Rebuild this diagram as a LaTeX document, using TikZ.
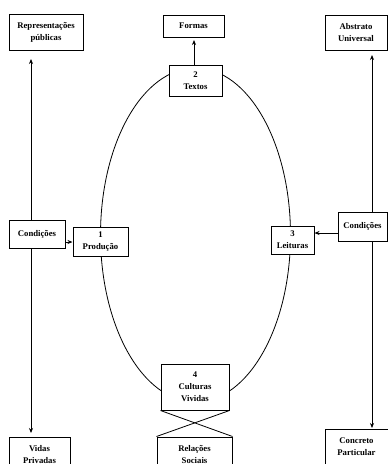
\documentclass[tikz,border=0pt]{standalone}
\usepackage{fontspec}
\setmainfont{Liberation Serif}
\usetikzlibrary{arrows.meta}
\begin{document}
\begin{tikzpicture}[x=1pt,y=-1pt,
  box/.style={draw,line width=1pt,fill=white,inner sep=0pt,align=center,
    font=\fontsize{8.7}{12}\selectfont\bfseries,anchor=center},
  conn/.style={line width=0.8pt},
  arr/.style={conn,-{Stealth[length=5pt,width=4pt]}}]
\useasboundingbox (0,0) rectangle (388,464);
\draw[line width=0.8pt] (195.5,235) ellipse [x radius=95, y radius=167];
\node[box,minimum width=74pt,minimum height=36pt] (rep) at (46,32) {Representações\\públicas};
\node[box,minimum width=61pt,minimum height=22pt] (formas) at (193.5,26) {Formas};
\node[box,minimum width=53pt,minimum height=31pt] (textos) at (195.5,80.5) {2\\Textos};
\node[box,minimum width=62pt,minimum height=35pt] (abs) at (356,32.5) {Abstrato\\Universal};
\node[box,minimum width=56pt,minimum height=28pt] (condl) at (37,234) {Condições};
\node[box,minimum width=55pt,minimum height=29pt] (prod) at (100.5,241.5) {1\\Produção};
\node[box,minimum width=43pt,minimum height=28pt] (leit) at (292.5,240) {3\\Leituras};
\node[box,minimum width=49pt,minimum height=29pt] (condr) at (362.5,226.5) {Condições};
\node[box,minimum width=68pt,minimum height=46pt] (cult) at (195,387) {4\\Culturas\\Vividas};
\node[box,minimum width=75pt,minimum height=35pt] (rel) at (194.5,454.5) {Relações\\Sociais};
\node[box,minimum width=61pt,minimum height=35pt] (vidas) at (39.5,454.5) {Vidas\\Privadas};
\node[box,minimum width=63pt,minimum height=36pt] (conc) at (356.5,447) {Concreto\\Particular};
\coordinate (lt) at (31,59);
\coordinate (lb) at (31,433);
\coordinate (rt) at (372,55);
\coordinate (rb) at (372,428);
\draw[arr] (condl.north -| lt) -- (lt);
\draw[arr] (condl.south -| lb) -- (lb);
\draw[arr] (condr.north -| rt) -- (rt);
\draw[arr] (condr.south -| rb) -- (rb);
\draw[arr] (textos.north -| 194,0) -- (194,40) coordinate (ft);
\draw[arr] (condl.east |- 0,242) -- (prod.west |- 0,242);
\draw[arr] (condr.west |- 0,233) -- (leit.east |- 0,233);
\draw[conn] (cult.south west) -- (rel.north east);
\draw[conn] (cult.south east) -- (rel.north west);
\end{tikzpicture}
\end{document}
